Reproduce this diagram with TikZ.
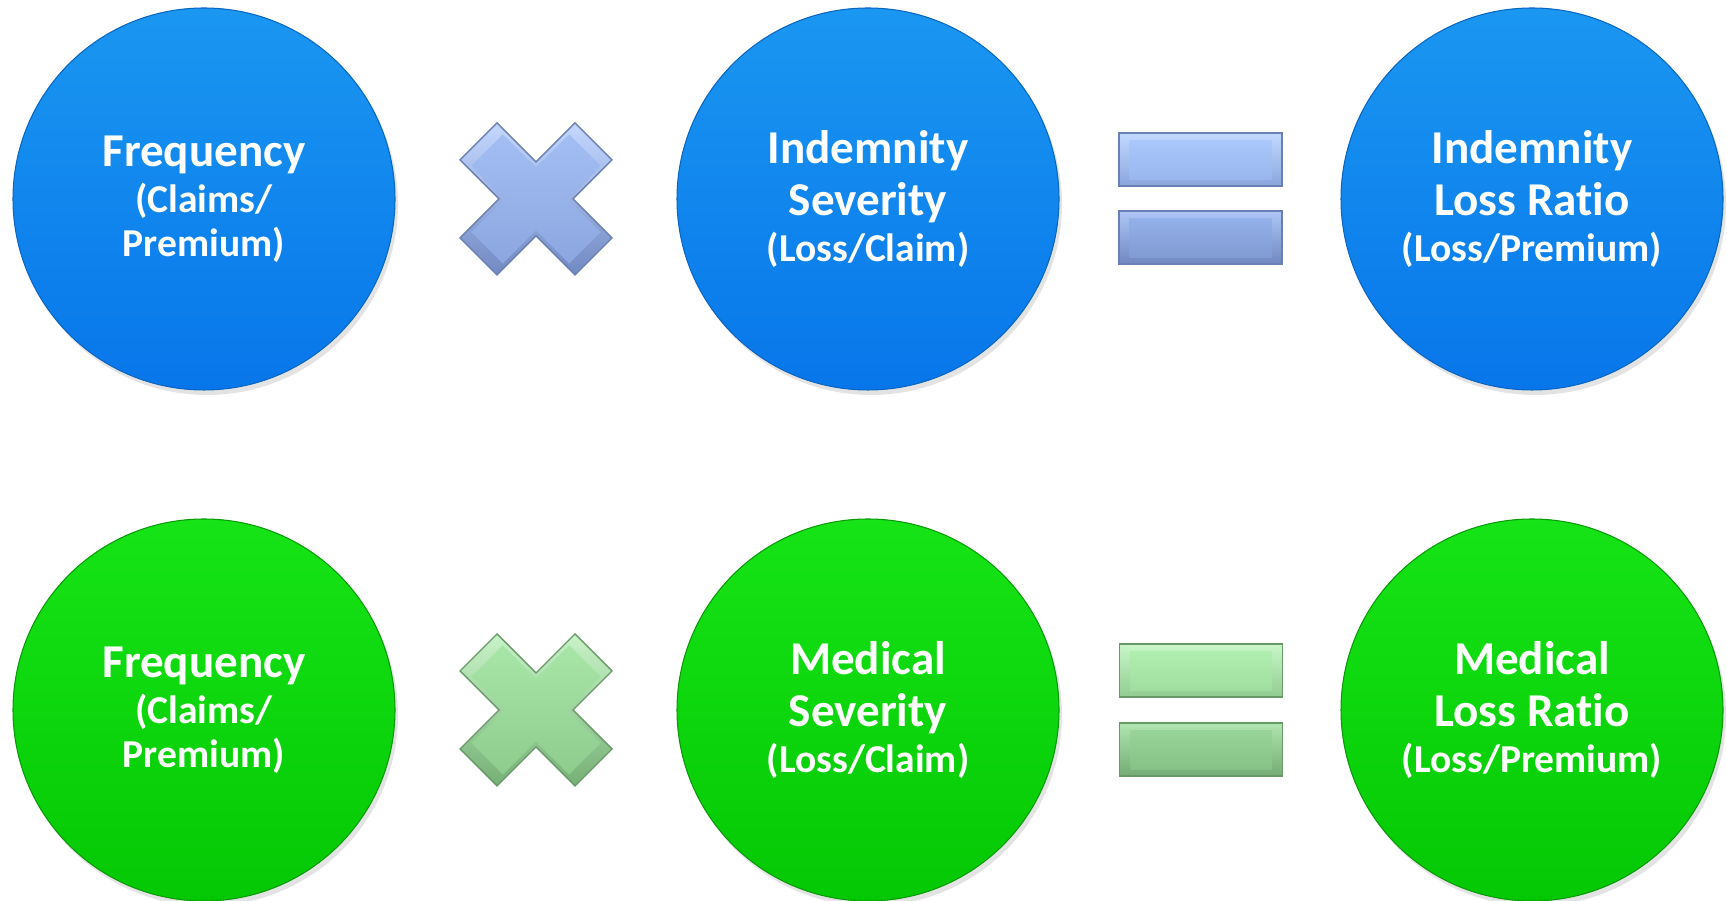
\documentclass[tikz,border=0pt]{standalone}
\usepackage{fontspec}
\setmainfont[Ligatures=NoCommon]{Carlito}
\usetikzlibrary{shadows}

\definecolor{blueTop}{HTML}{1A97F1}
\definecolor{blueBot}{HTML}{0876EA}
\definecolor{blueRim}{HTML}{0A66C0}
\definecolor{greenTop}{HTML}{16E416}
\definecolor{greenBot}{HTML}{04C804}
\definecolor{greenRim}{HTML}{0A9A0A}
% operator signs
\definecolor{bxHi}{HTML}{C4D8FF}
\definecolor{bxLo}{HTML}{7189C2}
\definecolor{bxFaceT}{HTML}{A2BEF3}
\definecolor{bxFaceB}{HTML}{8CA7E0}
\definecolor{bxEdge}{HTML}{6A80B4}
\definecolor{beqAHi}{HTML}{C2D9FF}
\definecolor{beqALo}{HTML}{8AA5DC}
\definecolor{beqAT}{HTML}{A9C7FA}
\definecolor{beqAB}{HTML}{99B6EE}
\definecolor{beqBHi}{HTML}{ADC6F6}
\definecolor{beqBLo}{HTML}{7188C0}
\definecolor{beqBT}{HTML}{93B0E9}
\definecolor{beqBB}{HTML}{819BD3}
\definecolor{gxHi}{HTML}{C8F3C8}
\definecolor{gxLo}{HTML}{76B076}
\definecolor{gxFaceT}{HTML}{A8E6A8}
\definecolor{gxFaceB}{HTML}{8ECC8E}
\definecolor{gxEdge}{HTML}{679A67}
\definecolor{geqAHi}{HTML}{C8F6C8}
\definecolor{geqALo}{HTML}{92CC92}
\definecolor{geqAT}{HTML}{B0EEB0}
\definecolor{geqAB}{HTML}{A0DEA0}
\definecolor{geqBHi}{HTML}{B0E4B0}
\definecolor{geqBLo}{HTML}{74AC74}
\definecolor{geqBT}{HTML}{98D498}
\definecolor{geqBB}{HTML}{86C286}

\newcommand\subfont{\fontsize{11.25}{12.5}\selectfont}

\begin{document}
\begin{tikzpicture}[
    x=0.1mm, y=-0.1mm,
    ball/.style={circle, inner sep=0pt, minimum size=38.2mm, align=center,
                 text=white, line width=0.3pt,
                 font=\bfseries\fontsize{13.4}{12.5}\selectfont,
                 drop shadow={opacity=0.22, shadow xshift=0.3mm, shadow yshift=-0.5mm}},
    blueball/.style={ball, top color=blueTop, bottom color=blueBot, draw=blueRim},
    greenball/.style={ball, top color=greenTop, bottom color=greenBot, draw=greenRim},
    pics/xsign/.style n args={5}{code={
      % bevel rim, then the face
      \path[top color=#1, bottom color=#2, draw=#5, line width=0.4pt]
        (-39,-76) -- (0,-37) -- (39,-76) -- (76,-39) -- (37,0) -- (76,39)
        -- (39,76) -- (0,37) -- (-39,76) -- (-76,39) -- (-37,0) -- (-76,-39) -- cycle;
      \path[scale=0.85, top color=#3, bottom color=#4]
        (-39,-76) -- (0,-37) -- (39,-76) -- (76,-39) -- (37,0) -- (76,39)
        -- (39,76) -- (0,37) -- (-39,76) -- (-76,39) -- (-37,0) -- (-76,-39) -- cycle;
    }},
    pics/eqbar/.style n args={5}{code={
      \path[top color=#1, bottom color=#2, draw=#5, line width=0.4pt]
        (-81.5,-26.5) rectangle (81.5,26.5);
      \path[top color=#3, bottom color=#4]
        (-71,-18.5) rectangle (71,20);
    }}
  ]
    \useasboundingbox (0,0) rectangle (1727,901);

    % indemnity row
    \node[blueball] (freqA) at (204,199)
      {Frequency\\[0.6pt] \subfont (Claims/\\ \subfont Premium)};
    \node[blueball] (sevA)  at (868,199)
      {Indemnity\\[2.3pt] Severity\\[0.6pt] \subfont (Loss/Claim)};
    \node[blueball] (lossA) at (1532,199)
      {Indemnity\\[2.3pt] Loss Ratio\\[0.6pt] \subfont (Loss/Premium)};
    \pic at (536,199) {xsign={bxHi}{bxLo}{bxFaceT}{bxFaceB}{bxEdge}};
    \pic at (1200.5,159.5) {eqbar={beqAHi}{beqALo}{beqAT}{beqAB}{bxEdge}};
    \pic at (1200.5,237.5) {eqbar={beqBHi}{beqBLo}{beqBT}{beqBB}{bxEdge}};

    % medical row
    \node[greenball] (freqB) at (204,710)
      {Frequency\\[0.6pt] \subfont (Claims/\\ \subfont Premium)};
    \node[greenball] (sevB)  at (868,710)
      {Medical\\[2.3pt] Severity\\[0.6pt] \subfont (Loss/Claim)};
    \node[greenball] (lossB) at (1532,710)
      {Medical\\[2.3pt] Loss Ratio\\[0.6pt] \subfont (Loss/Premium)};
    \pic at (536,710) {xsign={gxHi}{gxLo}{gxFaceT}{gxFaceB}{gxEdge}};
    \pic at (1201,670.5) {eqbar={geqAHi}{geqALo}{geqAT}{geqAB}{gxEdge}};
    \pic at (1201,749.5) {eqbar={geqBHi}{geqBLo}{geqBT}{geqBB}{gxEdge}};
  \end{tikzpicture}
\end{document}
